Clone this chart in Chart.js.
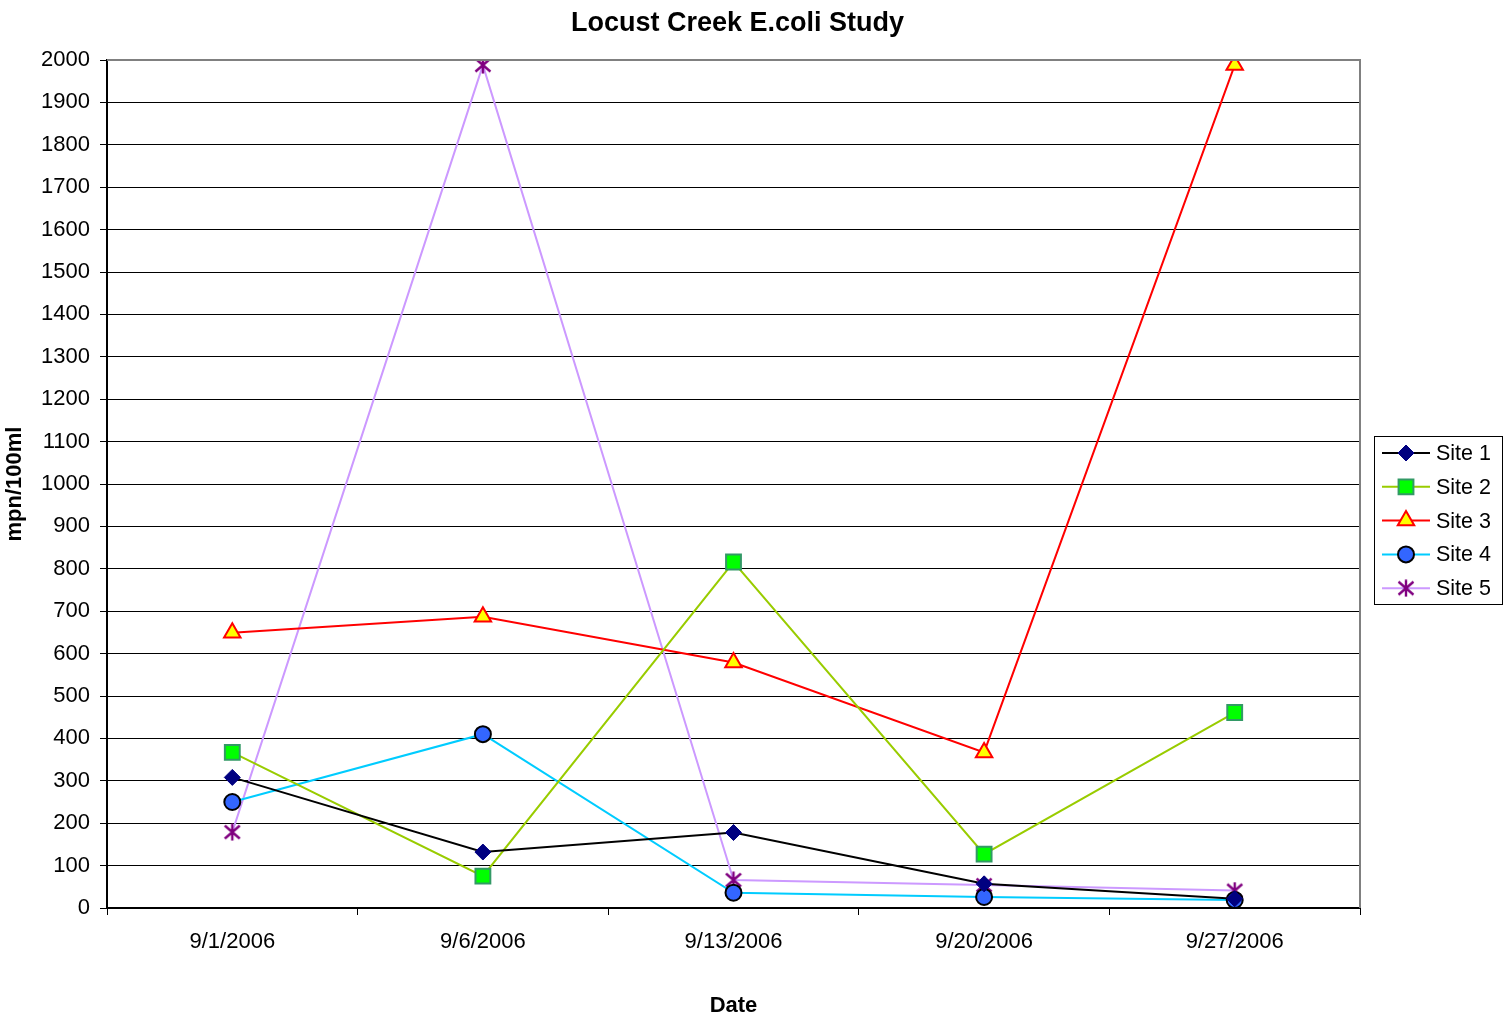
<!DOCTYPE html>
<html>
<head>
<meta charset="utf-8">
<script src="https://cdn.jsdelivr.net/npm/chart.js@4"></script>
<style>
  html, body { margin: 0; padding: 0; background: #fff; }
  #wrap { width: 1508px; height: 1017px; }
</style>
</head>
<body>
<div id="wrap"><canvas id="ecoliChart" width="1508" height="1017"></canvas></div>
<script>
let dates = ['9/1/2006', '9/6/2006', '9/13/2006', '9/20/2006', '9/27/2006'];
let site1 = [308, 132, 178, 57, 22];
let site2 = [367, 75, 816, 127, 461];
let site3 = [649, 687, 579, 367, 1988];
let site4 = [250, 410, 36, 26, 19];
let site5 = [179, 1988, 66, 54, 41];

const FONT = 'Arial, "Liberation Sans", sans-serif';

// 6-armed asterisk like the Excel marker
function makeStar() {
	let c = document.createElement('canvas');
	c.width = 18; c.height = 18;
	let g = c.getContext('2d');
	g.strokeStyle = '#800080';
	g.lineWidth = 2.4;
	g.beginPath();
	g.moveTo(9, 0.5); g.lineTo(9, 17.5);
	g.moveTo(1.5, 2.5); g.lineTo(16.5, 15.5);
	g.moveTo(16.5, 2.5); g.lineTo(1.5, 15.5);
	g.stroke();
	return c;
}
let starImg = makeStar();

function ds(label, data, line, style, fill, border, radius, bw) {
	return {
		label: label,
		data: data,
		borderColor: line,
		borderWidth: 2,
		pointStyle: style,
		pointBackgroundColor: fill,
		pointBorderColor: border,
		pointBorderWidth: bw,
		pointRadius: radius,
		pointHoverRadius: radius,
		tension: 0,
		fill: false
	};
}

let sets = [
	ds('Site 1', site1, '#000000', 'rectRot', '#000080', '#000080', 8, 1),
	ds('Site 2', site2, '#99CC00', 'rect', '#00FF00', '#339966', 10.5, 2),
	ds('Site 3', site3, '#FF0000', 'triangle', '#FFFF00', '#FF0000', 9.5, 2),
	ds('Site 4', site4, '#00CCFF', 'circle', '#3366FF', '#000000', 8, 2),
	ds('Site 5', site5, '#CC99FF', starImg, '#800080', '#800080', 9, 1)
];

const decor = {
	id: 'decor',
	afterDraw(chart) {
		const ctx = chart.ctx;
		const a = chart.chartArea;
		ctx.save();
		// plot border (top and right)
		ctx.strokeStyle = '#808080';
		ctx.lineWidth = 2;
		ctx.beginPath();
		ctx.moveTo(a.left, a.top);
		ctx.lineTo(a.right, a.top);
		ctx.lineTo(a.right, a.bottom);
		ctx.stroke();
		// title
		ctx.fillStyle = '#000';
		ctx.font = 'bold 27px ' + FONT;
		ctx.textAlign = 'center';
		ctx.textBaseline = 'middle';
		ctx.fillText('Locust Creek E.coli Study', (a.left + a.right) / 2 + 4, 24);
		// legend
		const lx = 1374, ly = 436, lw = 128, lh = 168;
		ctx.fillStyle = '#fff';
		ctx.fillRect(lx, ly, lw, lh);
		ctx.strokeStyle = '#000';
		ctx.lineWidth = 1;
		ctx.strokeRect(lx + 0.5, ly + 0.5, lw, lh);
		ctx.font = '21.5px ' + FONT;
		ctx.textAlign = 'left';
		chart.data.datasets.forEach((d, i) => {
			const y = 453 + i * 33.8;
			ctx.strokeStyle = d.borderColor;
			ctx.lineWidth = 2;
			ctx.beginPath();
			ctx.moveTo(1382, y);
			ctx.lineTo(1430, y);
			ctx.stroke();
			ctx.fillStyle = d.pointBackgroundColor;
			ctx.strokeStyle = d.pointBorderColor;
			ctx.lineWidth = d.pointBorderWidth;
			Chart.helpers.drawPoint(ctx, {
				pointStyle: d.pointStyle,
				radius: d.pointRadius,
				rotation: 0,
				borderWidth: d.pointBorderWidth
			}, 1406, y);
			ctx.fillStyle = '#000';
			ctx.fillText(d.label, 1436, y + 1);
		});
		ctx.restore();
	}
};

var ctx = document.getElementById('ecoliChart').getContext('2d');
var ecoliChart = new Chart(ctx, {
	type: 'line',
	data: {
		labels: dates,
		datasets: sets
	},
	plugins: [decor],
	options: {
		responsive: false,
		animation: false,
		layout: {
			padding: { left: 2, right: 148, top: 60, bottom: 0 }
		},
		plugins: {
			legend: { display: false },
			title: { display: false },
			tooltip: { enabled: false }
		},
		scales: {
			x: {
				offset: true,
				afterFit: function (scale) { scale.height = 109; },
				grid: {
					drawOnChartArea: false,
					offset: true,
					tickLength: 7,
					color: '#000'
				},
				border: { color: '#000', width: 2 },
				ticks: {
					color: '#000',
					font: { family: FONT, size: 22 },
					padding: 14,
					maxRotation: 0
				},
				title: {
					display: true,
					text: 'Date',
					color: '#000',
					font: { family: FONT, size: 22, weight: 'bold', lineHeight: 1.0 },
					padding: { top: 0, bottom: 0 }
				}
			},
			y: {
				min: 0,
				max: 2000,
				afterFit: function (scale) { scale.width = 105; },
				ticks: {
					stepSize: 100,
					color: '#000',
					font: { family: FONT, size: 22 },
					padding: 10,
					callback: function (v) { return v; }
				},
				grid: {
					color: '#000',
					lineWidth: 1,
					tickLength: 7
				},
				border: { color: '#000', width: 2 },
				title: {
					display: true,
					text: 'mpn/100ml',
					color: '#000',
					font: { family: FONT, size: 22, weight: 'bold' },
					padding: { top: 0, bottom: 0 }
				}
			}
		}
	}
});
</script>
</body>
</html>
